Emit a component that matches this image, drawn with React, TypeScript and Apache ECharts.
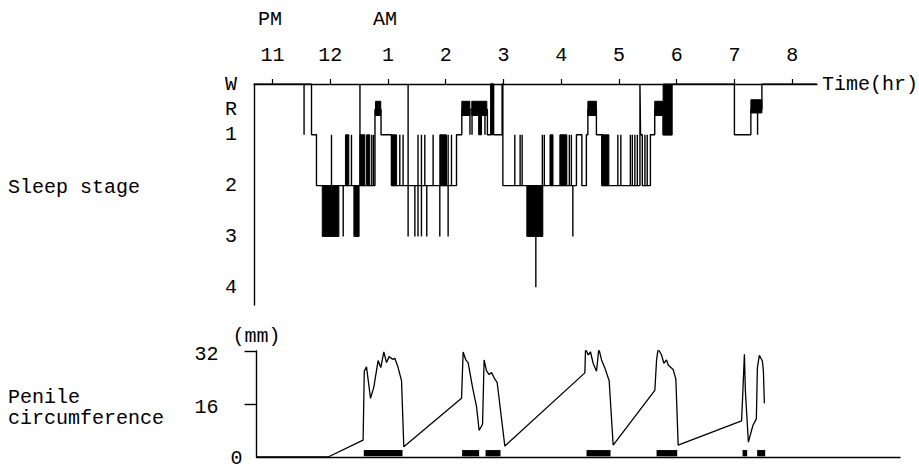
import { useEffect, useRef } from 'react';
import * as echarts from 'echarts';

// Clock hours (11 = 11 PM, 13 = 1 AM ... 20 = 8 AM)
const hourTicks = [11, 12, 13, 14, 15, 16, 17, 18, 19, 20];
const stageLabelValues = [0, 0.5, 1, 2, 3, 4];
const stageLabelNames = ['W', 'R', '1', '2', '3', '4'];
const circLabelValues = [0, 16, 32];
const circTickValues = [16, 32];

// Hypnogram main trace: [hour, stage]  (W=0, R=0.5, 1..4)
const hypnoSteps = [
  [10.68, 0], [11.676, 1], [11.762, 2], [12.775, 0.5], [12.88, 1], [13.061, 2],
  [14.187, 1], [14.279, 0.5], [14.722, 1], [14.782, 0], [14.83, 1], [14.977, 0],
  [14.99, 2], [16.264, 1], [16.358, 2], [16.436, 1], [16.462, 0.5], [16.61, 1],
  [16.704, 2], [17.364, 0], [17.375, 1], [17.405, 2], [17.545, 1], [17.62, 0.5],
  [17.765, 1], [17.92, 0], [19.0, 1], [19.285, 0.5], [19.476, 0], [20.43, 0],
];

// Brief stage shifts: [hour, fromStage, toStage]
const hypnoSpikes = [
  [11.547, 0, 1], [12.022, 2, 1], [12.225, 2, 3], [12.368, 2, 1], [12.515, 2, 0],
  [12.72, 2, 1], [12.75, 2, 1], [13.205, 2, 1], [13.262, 2, 1], [13.349, 0, 3],
  [13.466, 2, 3], [13.52, 1, 3], [13.58, 1, 3], [13.638, 2, 1], [13.672, 2, 3],
  [13.782, 2, 1], [13.898, 2, 3], [14.042, 1, 3], [14.1, 2, 1], [14.42, 0.5, 1],
  [14.456, 0.5, 1], [14.68, 0.5, 1], [15.197, 2, 1], [15.289, 2, 1], [15.324, 2, 1],
  [15.561, 3, 4], [15.674, 2, 1], [15.708, 2, 1], [16.141, 2, 1], [16.176, 2, 1],
  [16.202, 2, 3], [16.981, 2, 1], [17.033, 2, 1], [17.198, 2, 1], [17.232, 2, 1],
  [17.276, 2, 1], [17.319, 2, 1], [17.45, 2, 1], [17.49, 2, 1], [19.401, 0.5, 1],
];

// Dense (filled) episodes: [startHour, endHour, topStage, bottomStage]
const hypnoBlocks = [
  [12.785, 12.875, 0.34, 0.62], [14.279, 14.418, 0.34, 0.62], [14.452, 14.712, 0.34, 0.62],
  [16.462, 16.61, 0.34, 0.62], [17.62, 17.765, 0.34, 0.62], [19.285, 19.476, 0.31, 0.57],
  [11.862, 12.15, 2, 3], [12.264, 12.322, 1, 2], [12.41, 12.5, 2, 3], [12.515, 12.6, 1, 2],
  [12.63, 12.685, 1, 2], [13.06, 13.15, 1, 2], [13.898, 14.014, 1, 2], [14.57, 14.62, 0.5, 1],
  [14.782, 14.822, 0, 1], [15.405, 15.682, 2, 3], [15.806, 15.858, 1, 2],
  [15.977, 16.098, 1, 2], [16.704, 16.826, 1, 2], [17.765, 17.91, 0, 1],
];

// Penile circumference (mm): [hour, mm]
const circTrace = [
  [10.728, 0], [11.963, 0], [12.569, 5.1], [12.59, 25.9], [12.628, 27.2], [12.698, 17.7],
  [12.755, 21.1], [12.829, 29.1], [12.876, 27], [12.928, 31.7], [12.975, 28.5], [13.02, 30.3],
  [13.079, 29.5], [13.119, 29.8], [13.176, 27], [13.235, 23], [13.274, 3.1],
  [14.274, 17.7], [14.302, 31.7], [14.348, 29.3], [14.388, 28.5], [14.464, 21.1], [14.534, 15.2],
  [14.579, 8.0], [14.638, 9.9], [14.665, 29.3], [14.707, 26], [14.752, 24.9], [14.794, 25.5],
  [14.851, 23.5], [14.891, 22.5], [15.024, 3.3],
  [16.41, 25.4], [16.422, 32.7], [16.467, 30.8], [16.508, 31.7], [16.553, 28.3], [16.612, 25.9],
  [16.652, 32.7], [16.699, 29.3], [16.756, 26.9], [16.831, 23], [16.9, 3.6],
  [17.622, 20.1], [17.652, 29.3], [17.679, 32.7], [17.738, 30.8], [17.778, 28.3], [17.825, 29.3],
  [17.853, 27.8], [17.939, 26.4], [17.986, 23.5], [18.026, 3.6],
  [19.124, 10.9], [19.147, 20], [19.173, 31], [19.19, 20], [19.242, 4.5], [19.32, 9.5],
  [19.38, 11.5], [19.398, 27], [19.432, 30.7], [19.484, 29], [19.502, 26], [19.519, 16.2],
];

// Marker bars under the trace: [startHour, endHour]
const circBars = [
  [12.581, 13.252], [14.284, 14.579], [14.69, 14.949], [16.439, 16.855],
  [17.652, 18.009], [19.141, 19.221], [19.394, 19.533],
];
const circBarBand = [0.2, 2.1];

const FONT = "'Liberation Mono', 'DejaVu Sans Mono', monospace";

export default function App() {
  const ref = useRef<HTMLDivElement>(null);
  useEffect(() => {
    document.body.style.margin = '0';
    const chart = echarts.init(ref.current!, null, { renderer: 'svg' });
    const txt = { fontFamily: FONT, fontSize: 20, color: '#000' };
    const stageMap: Record<string, string> = {};
    stageLabelValues.forEach((v, i) => (stageMap[String(v)] = stageLabelNames[i]));

    const option: any = {
      animation: false,
      backgroundColor: '#fff',
      grid: [
        { left: 254, top: 84, width: 563, height: 221 },
        { left: 256.5, top: 351, width: 643.5, height: 110 },
      ],
      xAxis: [
        {
          type: 'value', gridIndex: 0, position: 'top', min: 10.68, max: 20.43,
          name: 'Time(hr)', nameLocation: 'end', nameGap: 5,
          nameTextStyle: { ...txt, verticalAlign: 'middle', padding: [0, 0, 14, 0] },
          axisLine: { show: true, onZero: false, lineStyle: { color: '#000', width: 1.4 } },
          axisTick: { show: true, inside: false, length: 5, customValues: hourTicks, lineStyle: { color: '#000', width: 1.2 } },
          axisLabel: { ...txt, margin: 19, customValues: hourTicks, formatter: (v: number) => String(v > 12 ? v - 12 : v) },
          splitLine: { show: false },
        },
        {
          type: 'value', gridIndex: 1, position: 'bottom', min: 10.723, max: 21.868,
          axisLine: { show: true, onZero: false, lineStyle: { color: '#000', width: 1.4 } },
          axisTick: { show: false }, axisLabel: { show: false }, splitLine: { show: false },
        },
      ],
      yAxis: [
        {
          type: 'value', gridIndex: 0, inverse: true, min: 0, max: 4.35,
          axisLine: { show: true, onZero: false, lineStyle: { color: '#000', width: 1.4 } },
          axisTick: { show: false },
          axisLabel: {
            ...txt, margin: 17, align: 'right', padding: [4, 0, 0, 0],
            customValues: stageLabelValues,
            formatter: (v: number) => stageMap[String(v)] ?? '',
          },
          splitLine: { show: false },
        },
        {
          type: 'value', gridIndex: 1, min: 0, max: 32,
          name: '(mm)', nameLocation: 'end', nameGap: 5, nameTextStyle: { ...txt },
          axisLine: { show: true, onZero: false, lineStyle: { color: '#000', width: 1.4 } },
          axisTick: { show: true, inside: false, length: 12, customValues: circTickValues, lineStyle: { color: '#000', width: 1.4 } },
          axisLabel: {
            ...txt, margin: 14, align: 'right', customValues: circLabelValues,
            formatter: (v: number) => (v === 0 ? '{z|0}' : '{n|' + v + '}'),
            rich: {
              n: { fontFamily: FONT, fontSize: 20, color: '#000', padding: [6, 24, 0, 0] },
              z: { fontFamily: FONT, fontSize: 20, color: '#000', padding: [2, 0, 0, 0] },
            },
          },
          splitLine: { show: false },
        },
      ],
      graphic: [
        { type: 'text', x: 270, y: 19, style: { text: 'PM', fontFamily: FONT, fontSize: 20, fill: '#000', align: 'center', verticalAlign: 'middle' } },
        { type: 'text', x: 385, y: 19, style: { text: 'AM', fontFamily: FONT, fontSize: 20, fill: '#000', align: 'center', verticalAlign: 'middle' } },
        { type: 'text', x: 8, y: 187, style: { text: 'Sleep stage', fontFamily: FONT, fontSize: 20, fill: '#000', align: 'left', verticalAlign: 'middle' } },
        { type: 'text', x: 8, y: 397, style: { text: 'Penile', fontFamily: FONT, fontSize: 20, fill: '#000', align: 'left', verticalAlign: 'middle' } },
        { type: 'text', x: 8, y: 418, style: { text: 'circumference', fontFamily: FONT, fontSize: 20, fill: '#000', align: 'left', verticalAlign: 'middle' } },
      ],
      series: [
        {
          type: 'line', xAxisIndex: 0, yAxisIndex: 0, data: hypnoSteps, step: 'end',
          symbol: 'none', lineStyle: { color: '#000', width: 1.4 }, z: 3,
        },
        {
          type: 'custom', xAxisIndex: 0, yAxisIndex: 0, data: hypnoSpikes,
          encode: { x: 0, y: [1, 2] },
          renderItem: (_p: any, api: any) => {
            const a = api.coord([api.value(0), api.value(1)]);
            const b = api.coord([api.value(0), api.value(2)]);
            return { type: 'line', shape: { x1: a[0], y1: a[1], x2: b[0], y2: b[1] }, style: { stroke: '#000', lineWidth: 1.4 } };
          },
          z: 3,
        },
        {
          type: 'custom', xAxisIndex: 0, yAxisIndex: 0, data: hypnoBlocks,
          encode: { x: [0, 1], y: [2, 3] },
          renderItem: (_p: any, api: any) => {
            const a = api.coord([api.value(0), api.value(2)]);
            const b = api.coord([api.value(1), api.value(3)]);
            return {
              type: 'rect',
              shape: { x: a[0], y: Math.min(a[1], b[1]), width: b[0] - a[0], height: Math.abs(b[1] - a[1]) },
              style: { fill: '#000', stroke: '#000', lineWidth: 1 },
            };
          },
          z: 4,
        },
        {
          type: 'line', xAxisIndex: 1, yAxisIndex: 1, data: circTrace,
          symbol: 'none', lineStyle: { color: '#000', width: 1.3 }, z: 3,
        },
        {
          type: 'custom', xAxisIndex: 1, yAxisIndex: 1, data: circBars,
          encode: { x: [0, 1] },
          renderItem: (_p: any, api: any) => {
            const a = api.coord([api.value(0), circBarBand[1]]);
            const b = api.coord([api.value(1), circBarBand[0]]);
            return {
              type: 'rect',
              shape: { x: a[0], y: a[1], width: b[0] - a[0], height: b[1] - a[1] },
              style: { fill: '#000' },
            };
          },
          z: 4,
        },
      ],
    };
    chart.setOption(option);
    return () => chart.dispose();
  }, []);
  return <div ref={ref} style={{ width: 919, height: 468 }} />;
}
